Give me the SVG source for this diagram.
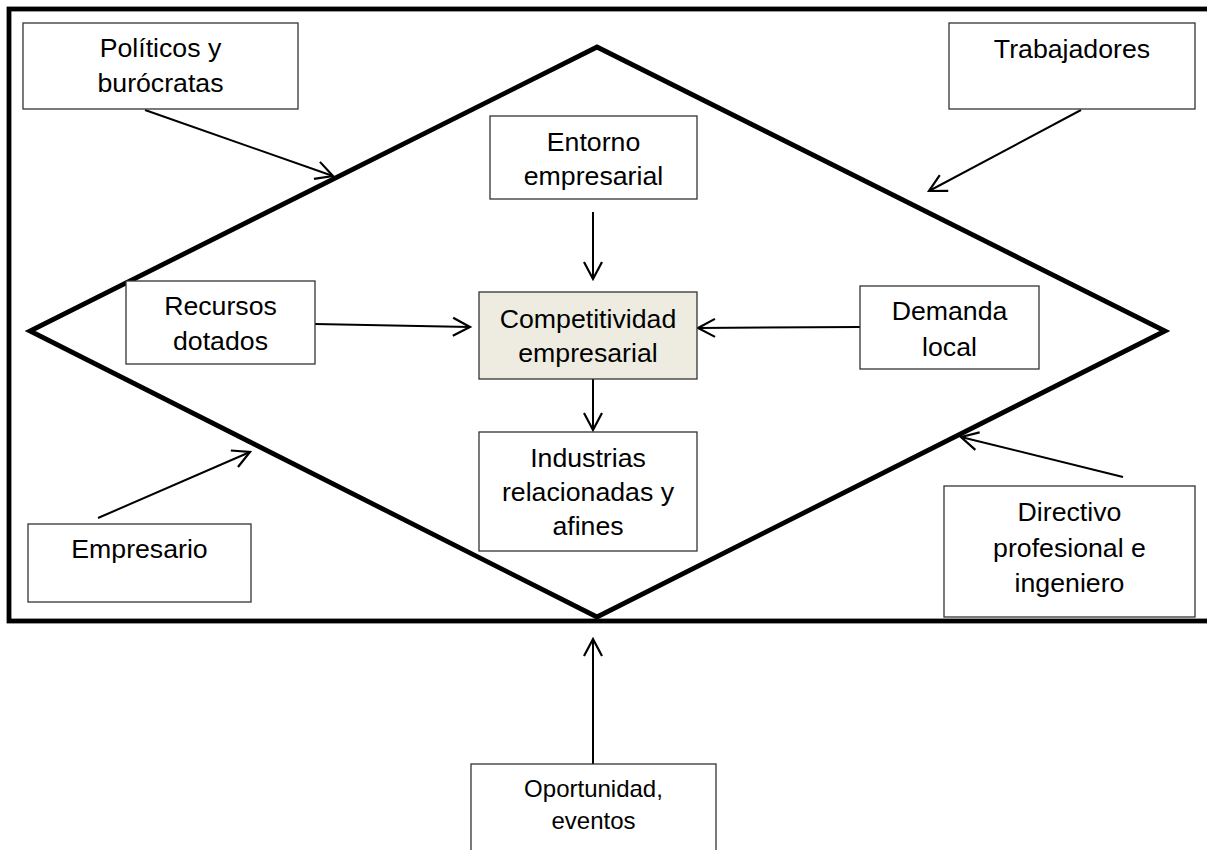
<svg xmlns="http://www.w3.org/2000/svg" width="1207" height="850" viewBox="0 0 1207 850">
  <style>
    .box { fill: #ffffff; stroke: #333333; stroke-width: 1.3; }
    .core { fill: #eeece1; stroke: #333333; stroke-width: 1.3; }
    .lbl { font-family: "Liberation Sans", Arial, sans-serif; font-size: 26.7px; fill: #000000; text-anchor: middle; }
    .lbl-s { font-family: "Liberation Sans", Arial, sans-serif; font-size: 24px; fill: #000000; text-anchor: middle; }
    .edge { fill: none; stroke: #000000; stroke-width: 2; marker-end: url(#open-arrow); }
    .heavy { fill: none; stroke: #000000; stroke-width: 4.8; stroke-linejoin: miter; }
  </style>
  <defs>
    <marker id="open-arrow" markerUnits="userSpaceOnUse" markerWidth="24" markerHeight="24" refX="0" refY="0" viewBox="-20 -12 24 24" orient="auto">
      <path d="M-17,-9 L0,0 L-17,9" fill="none" stroke="#000000" stroke-width="2.2" stroke-linejoin="miter"/>
    </marker>
  </defs>

  <rect width="1207" height="850" fill="#ffffff"/>

  <!-- outer frame and diamond -->
  <g id="frame">
    <rect class="heavy" x="9" y="9" width="1215" height="612"/>
    <polygon class="heavy" points="597,47 1165,331 597,617 30,331"/>
  </g>

  <!-- connectors -->
  <g id="connectors">
    <line class="edge" x1="145" y1="110" x2="333" y2="176"/>
    <line class="edge" x1="1081" y1="110" x2="929" y2="191"/>
    <line class="edge" x1="98" y1="518" x2="250" y2="452"/>
    <line class="edge" x1="1123" y1="477" x2="961" y2="437"/>
    <line class="edge" x1="593" y1="764" x2="593" y2="639"/>
    <line class="edge" x1="593" y1="212" x2="593" y2="279"/>
    <line class="edge" x1="593" y1="379" x2="593" y2="430"/>
    <line class="edge" x1="315" y1="324" x2="470" y2="327"/>
    <line class="edge" x1="860" y1="327" x2="698" y2="328"/>
  </g>

  <g id="politicos">
    <rect class="box" x="23" y="23" width="275" height="86"/>
    <text class="lbl" x="160.5" y="57">Políticos y</text>
    <text class="lbl" x="160.5" y="92">burócratas</text>
  </g>

  <g id="trabajadores">
    <rect class="box" x="949" y="23" width="246" height="86"/>
    <text class="lbl" x="1072" y="58">Trabajadores</text>
  </g>

  <g id="entorno">
    <rect class="box" x="490" y="116" width="207" height="83"/>
    <text class="lbl" x="593.5" y="151">Entorno</text>
    <text class="lbl" x="593.5" y="185">empresarial</text>
  </g>

  <g id="competitividad">
    <rect class="core" x="479" y="292" width="218" height="87"/>
    <text class="lbl" x="588" y="328">Competitividad</text>
    <text class="lbl" x="588" y="362">empresarial</text>
  </g>

  <g id="recursos">
    <rect class="box" x="126" y="281" width="189" height="83"/>
    <text class="lbl" x="220.5" y="315">Recursos</text>
    <text class="lbl" x="220.5" y="350">dotados</text>
  </g>

  <g id="demanda">
    <rect class="box" x="860" y="286" width="179" height="83"/>
    <text class="lbl" x="949.5" y="320">Demanda</text>
    <text class="lbl" x="949.5" y="356">local</text>
  </g>

  <g id="industrias">
    <rect class="box" x="479" y="432" width="218" height="119"/>
    <text class="lbl" x="588" y="467">Industrias</text>
    <text class="lbl" x="588" y="501">relacionadas y</text>
    <text class="lbl" x="588" y="535">afines</text>
  </g>

  <g id="empresario">
    <rect class="box" x="28" y="524" width="223" height="78"/>
    <text class="lbl" x="139.5" y="558">Empresario</text>
  </g>

  <g id="directivo">
    <rect class="box" x="944" y="486" width="251" height="131"/>
    <text class="lbl" x="1069.5" y="521">Directivo</text>
    <text class="lbl" x="1069.5" y="557">profesional e</text>
    <text class="lbl" x="1069.5" y="592">ingeniero</text>
  </g>

  <g id="oportunidad">
    <rect class="box" x="471" y="764" width="245" height="100"/>
    <text class="lbl-s" x="593.5" y="797">Oportunidad,</text>
    <text class="lbl-s" x="593.5" y="829">eventos</text>
  </g>
</svg>
